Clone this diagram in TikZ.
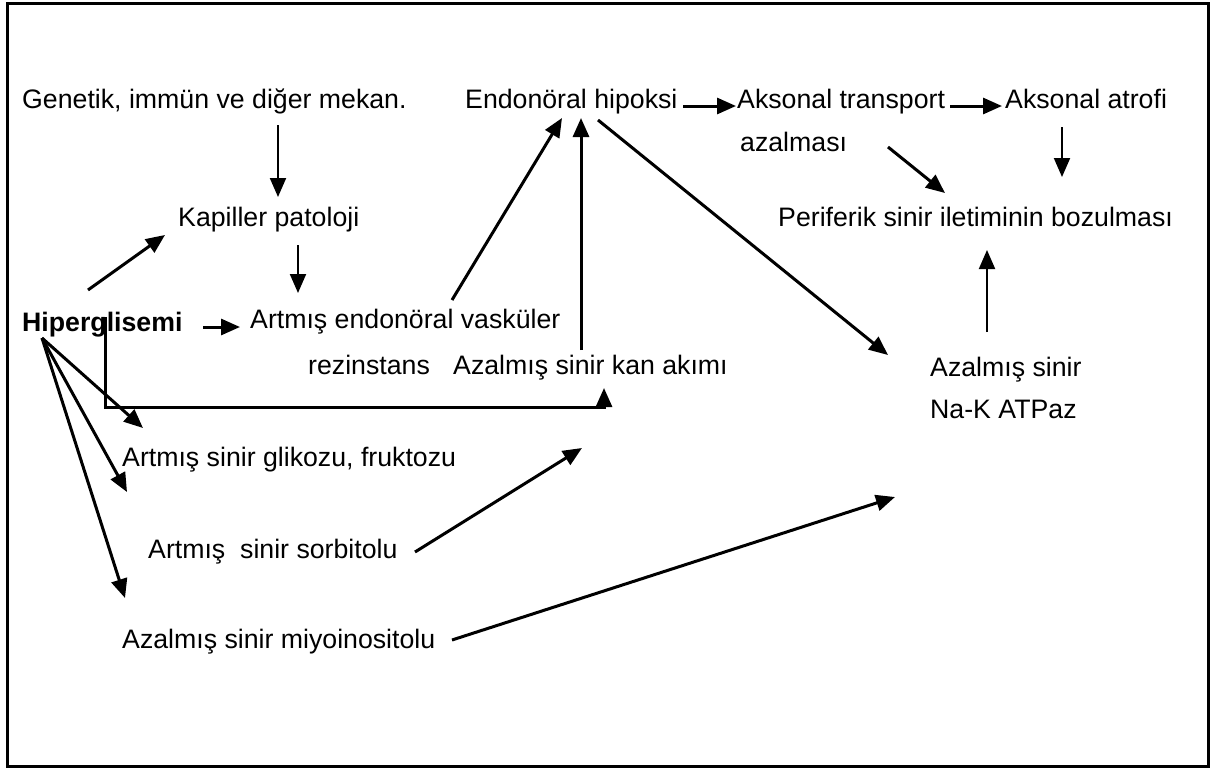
\documentclass[tikz,border=0pt]{standalone}
\usepackage{fontspec}
\setmainfont{Liberation Sans}
\usetikzlibrary{arrows.meta, calc}
\tikzset{
  >={Triangle[length=19pt,width=16pt]},
  lbl/.style={anchor=base west, inner sep=0pt, font=\fontsize{26.7}{31}\selectfont},
  arr/.style={->, line width=3pt},
  thin/.style={->, line width=2pt},
}

\begin{document}
\begin{tikzpicture}[x=1pt,y=-1pt]
  \useasboundingbox (0,0) rectangle (1211,771);
  \draw[line width=3pt] (7,3) rectangle (1208,766);

  % texts
  \node[lbl] (gen) at (22,108) {Genetik, immün ve diğer mekan.};
  \node[lbl] (hip) at (465,108) {Endonöral hipoksi};
  \node[lbl] (tra) at (737,108) {Aksonal transport};
  \node[lbl] (azm) at (740,151) {azalması};
  \node[lbl] (atr) at (1005,108) {Aksonal atrofi};
  \node[lbl] (kap) at (178,226) {Kapiller patoloji};
  \node[lbl] (per) at (778,226) {Periferik sinir iletiminin bozulması};
  \node[lbl,font=\fontsize{26.7}{31}\selectfont\bfseries] (hgl) at (22,331) {Hiperglisemi};
  \node[lbl] (vas) at (250,328) {Artmış endonöral vasküler};
  \node[lbl] (rez) at (308,374) {rezinstans};
  \node[lbl] (kan) at (453,374) {Azalmış sinir kan akımı};
  \node[lbl] (nak1) at (930,376) {Azalmış sinir};
  \node[lbl] (nak2) at (930,418) {Na-K ATPaz};
  \node[lbl] (gli) at (122,466) {Artmış sinir glikozu, fruktozu};
  \node[lbl] (sor) at (148,558) {Artmış\ \ sinir sorbitolu};
  \node[lbl] (miy) at (122,648) {Azalmış sinir miyoinositolu};

  % arrows
  \draw[thin] ($(gen.base west)+(256,17)$) -- ($(kap.base west)+(100,-29)$);
  \draw[thin] ($(kap.base west)+(120,19)$) -- ($(vas.base west)+(48,-35)$);
  \draw[arr] ($(hgl.base west)+(66,-41)$) -- ($(kap.base west)+(-13,9)$);
  \draw[arr] ($(hgl.base west)+(181,-4)$) -- ($(vas.base west)+(-10,-1)$);
  \draw[arr] ($(hgl.base west)+(83,-14)$) |- ($(kan.base west)+(151,33)$)
        -- ($(kan.base west)+(151,14)$);
  \draw[arr] ($(vas.base west)+(202,-28)$) -- ($(hip.base west)+(97,10)$);
  \draw[arr] ($(kan.base west)+(128,-24)$) -- ($(hip.base west)+(116,10)$);
  \draw[arr] ($(hip.base west)+(133,12)$) -- ($(nak1.base west)+(-42,-21)$);
  \draw[arr] ($(hip.base west)+(218,-2)$) -- ($(tra.base west)+(-1,-2)$);
  \draw[arr] ($(tra.base west)+(213,-2)$) -- ($(atr.base west)+(-3,-2)$);
  \draw[thin] ($(atr.base west)+(57,19)$) -- ($(per.base west)+(284,-49)$);
  \draw[arr] ($(azm.base west)+(148,-4)$) -- ($(per.base west)+(167,-33)$);
  \draw[thin] ($(nak1.base west)+(57,-44)$) -- ($(per.base west)+(209,24)$);
  \draw[arr] ($(hgl.base west)+(20,7)$) -- ($(gli.base west)+(21,-38)$);
  \draw[arr] ($(hgl.base west)+(20,7)$) -- ($(sor.base west)+(-21,-66)$);
  \draw[arr] ($(hgl.base west)+(20,7)$) -- ($(miy.base west)+(3,-50)$);
  \draw[arr] ($(sor.base west)+(267,-6)$) -- ($(kan.base west)+(129,74)$);
  \draw[arr] ($(miy.base west)+(330,-8)$) -- ($(nak2.base west)+(-35,79)$);
\end{tikzpicture}
\end{document}
